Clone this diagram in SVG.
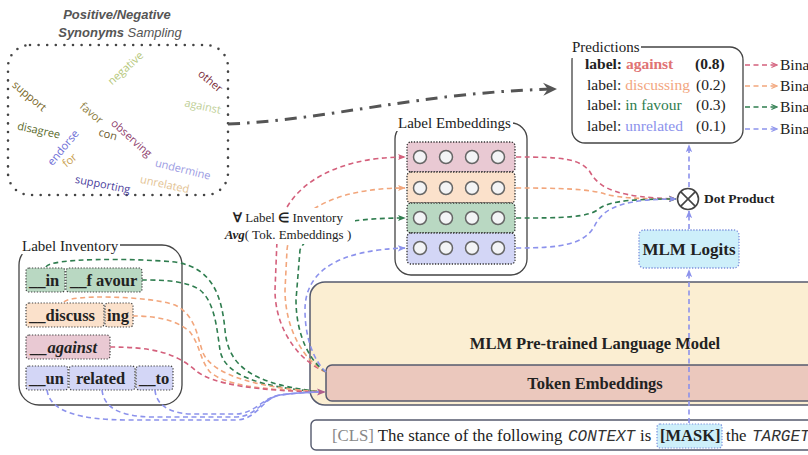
<svg xmlns="http://www.w3.org/2000/svg" width="808" height="455" viewBox="0 0 808 455">
<defs>
<style>
.serif{font-family:"Liberation Serif","Times New Roman",serif;fill:#222}
.mono{font-family:"Liberation Mono","Courier New",monospace;font-style:italic;fill:#333}
.bold{font-weight:bold}
.title{font-family:"Liberation Serif",serif;font-size:15px;fill:#222}
.syn{font-family:"Open Sans","Liberation Sans",sans-serif;font-size:11px;text-anchor:middle}
.box{fill:#fff;stroke:#444;stroke-width:1.3}
.tok{stroke:#444;stroke-width:1.2;stroke-dasharray:1.3 1.6}
.tokt{font-family:"Liberation Serif",serif;font-size:16.5px;font-weight:bold;fill:#222}
.dl{fill:none;stroke-width:1.6;stroke-dasharray:5 3.5}
.r{stroke:#d4607c}.o{stroke:#f2a67c}.g{stroke:#2f7d4f}.b{stroke:#8c92ec}
.cir{fill:#f3f4f6;stroke:#666;stroke-width:1.5}
.row{stroke:#333;stroke-width:1.3;stroke-dasharray:1.3 1.5}
.pred{font-size:15.5px}
</style>
<marker id="mR" viewBox="0 0 10 10" refX="9" refY="5" markerWidth="8" markerHeight="8" orient="auto" markerUnits="userSpaceOnUse"><path d="M0,1 L10,5 L0,9 L2.5,5Z" fill="#d4607c"/></marker>
<marker id="mO" viewBox="0 0 10 10" refX="9" refY="5" markerWidth="8" markerHeight="8" orient="auto" markerUnits="userSpaceOnUse"><path d="M0,1 L10,5 L0,9 L2.5,5Z" fill="#f2a67c"/></marker>
<marker id="mG" viewBox="0 0 10 10" refX="9" refY="5" markerWidth="8" markerHeight="8" orient="auto" markerUnits="userSpaceOnUse"><path d="M0,1 L10,5 L0,9 L2.5,5Z" fill="#2f7d4f"/></marker>
<marker id="mB" viewBox="0 0 10 10" refX="9" refY="5" markerWidth="8" markerHeight="8" orient="auto" markerUnits="userSpaceOnUse"><path d="M0,1 L10,5 L0,9 L2.5,5Z" fill="#8c92ec"/></marker>
<marker id="mP" viewBox="0 0 10 10" refX="9" refY="5" markerWidth="9" markerHeight="9" orient="auto" markerUnits="userSpaceOnUse"><path d="M0,1 L10,5 L0,9 L2.5,5Z" fill="#b0608c"/></marker>
<marker id="mD" viewBox="0 0 12 12" refX="11" refY="6" markerWidth="14" markerHeight="14" orient="auto" markerUnits="userSpaceOnUse"><path d="M0,0.5 L12,6 L0,11.5 L4,6Z" fill="#555"/></marker>
<marker id="oR" viewBox="0 0 10 10" refX="9" refY="5" markerWidth="7" markerHeight="7" orient="auto" markerUnits="userSpaceOnUse"><path d="M1,1.5 L9,5 L1,8.5" fill="none" stroke="#d4607c" stroke-width="1.5"/></marker>
<marker id="oO" viewBox="0 0 10 10" refX="9" refY="5" markerWidth="7" markerHeight="7" orient="auto" markerUnits="userSpaceOnUse"><path d="M1,1.5 L9,5 L1,8.5" fill="none" stroke="#f2a67c" stroke-width="1.5"/></marker>
<marker id="oG" viewBox="0 0 10 10" refX="9" refY="5" markerWidth="7" markerHeight="7" orient="auto" markerUnits="userSpaceOnUse"><path d="M1,1.5 L9,5 L1,8.5" fill="none" stroke="#2f7d4f" stroke-width="1.5"/></marker>
<marker id="oB" viewBox="0 0 10 10" refX="9" refY="5" markerWidth="7" markerHeight="7" orient="auto" markerUnits="userSpaceOnUse"><path d="M1,1.5 L9,5 L1,8.5" fill="none" stroke="#8c92ec" stroke-width="1.5"/></marker>
</defs>
<rect width="808" height="455" fill="#fff"/>

<!-- Synonyms sampling -->
<g id="synonyms">
<text x="117" y="19" text-anchor="middle" font-family="Liberation Sans,Arial,sans-serif" font-size="13" font-weight="bold" font-style="italic" fill="#555">Positive/Negative</text>
<text x="120" y="37" text-anchor="middle" font-family="Liberation Sans,Arial,sans-serif" font-size="13" font-style="italic" fill="#555"><tspan font-weight="bold">Synonyms</tspan> Sampling</text>
<rect x="8" y="45" width="220" height="150" rx="22" fill="none" stroke="#444" stroke-width="2.6" stroke-linecap="round" stroke-dasharray="0 8.6"/>
<text class="syn" fill="#b5c77a" transform="translate(128,71) rotate(-42)">negative</text>
<text class="syn" fill="#7b2d3b" transform="translate(208,84) rotate(40)">other</text>
<text class="syn" fill="#7b6a2e" transform="translate(27,99) rotate(40)">support</text>
<text class="syn" fill="#c0cf98" transform="translate(202,110) rotate(12)">against</text>
<text class="syn" fill="#8c7b3c" transform="translate(89,116) rotate(40)">favor</text>
<text class="syn" fill="#8d3b6b" transform="translate(129,141) rotate(42)">observing</text>
<text class="syn" fill="#5b6b2c" transform="translate(38,134) rotate(12)">disagree</text>
<text class="syn" fill="#6b5a2b" transform="translate(107,138) rotate(15)">con</text>
<text class="syn" fill="#6e6ed6" transform="translate(66,150) rotate(-50)">endorse</text>
<text class="syn" fill="#c9a04f" transform="translate(72,163) rotate(-40)">for</text>
<text class="syn" fill="#9c9ce3" transform="translate(182,173) rotate(14)">undermine</text>
<text class="syn" fill="#4a3c9c" transform="translate(102,188) rotate(11)">supporting</text>
<text class="syn" fill="#e3c394" transform="translate(164,188) rotate(12)">unrelated</text>
</g>

<!-- Label Embeddings -->
<g id="label-embeddings">
<rect class="box" x="395" y="123" width="132" height="152" rx="16"/>
<rect x="396" y="112" width="117" height="19" fill="#fff"/>
<text class="title" x="398" y="128">Label Embeddings</text>
<rect class="row" x="407" y="142" width="108" height="30" rx="4" fill="#e9c9d3"/>
<rect class="row" x="407" y="172" width="108" height="31" rx="4" fill="#fbe1cb"/>
<rect class="row" x="407" y="203" width="108" height="30" rx="4" fill="#b9d8c2"/>
<rect class="row" x="407" y="233" width="108" height="31" rx="4" fill="#d3d6f6"/>
<g class="cir">
<circle cx="420" cy="157" r="6.5"/><circle cx="446" cy="157" r="6.5"/><circle cx="472" cy="157" r="6.5"/><circle cx="498" cy="157" r="6.5"/>
<circle cx="420" cy="188" r="6.5"/><circle cx="446" cy="188" r="6.5"/><circle cx="472" cy="188" r="6.5"/><circle cx="498" cy="188" r="6.5"/>
<circle cx="420" cy="218" r="6.5"/><circle cx="446" cy="218" r="6.5"/><circle cx="472" cy="218" r="6.5"/><circle cx="498" cy="218" r="6.5"/>
<circle cx="420" cy="248" r="6.5"/><circle cx="446" cy="248" r="6.5"/><circle cx="472" cy="248" r="6.5"/><circle cx="498" cy="248" r="6.5"/>
</g>
</g>

<!-- Predictions -->
<g id="predictions">
<rect class="box" x="572" y="47" width="171" height="96" rx="13"/>
<rect x="570" y="37" width="71" height="21" fill="#fff"/>
<text class="title" x="572" y="52">Predictions</text>
<text class="serif bold pred" x="585" y="69">label: <tspan fill="#e07274">against</tspan></text>
<text class="serif bold pred" x="695" y="69">(0.8)</text>
<text class="serif pred" x="587" y="90">label: <tspan fill="#f2a680">discussing</tspan></text>
<text class="serif pred" x="696" y="90">(0.2)</text>
<text class="serif pred" x="587" y="110">label: <tspan fill="#2f7d4f">in favour</tspan></text>
<text class="serif pred" x="696" y="110">(0.3)</text>
<text class="serif pred" x="587" y="131">label: <tspan fill="#8c92ec">unrelated</tspan></text>
<text class="serif pred" x="696" y="131">(0.1)</text>
</g>

<g id="binary">
<text class="serif pred" x="780" y="70">Bina</text>
<text class="serif pred" x="780" y="91">Bina</text>
<text class="serif pred" x="780" y="112">Bina</text>
<text class="serif pred" x="780" y="134">Bina</text>
</g>

<!-- Dot product -->
<g id="dot-product">
<circle cx="688" cy="199" r="10.5" fill="#fff" stroke="#444" stroke-width="1.6"/>
<path d="M680.6,191.6 L695.4,206.4 M695.4,191.6 L680.6,206.4" stroke="#444" stroke-width="1.6"/>
<text class="serif bold" x="704" y="203" font-size="13.5">Dot Product</text>
</g>

<!-- MLM Logits -->
<g id="mlm-logits">
<rect x="639" y="230" width="100" height="38" rx="5" fill="#cdeffa" stroke="#7b8fdc" stroke-width="1.3" stroke-dasharray="1.3 1.6"/>
<text class="serif bold" x="689" y="255" font-size="17" text-anchor="middle">MLM Logits</text>
</g>

<!-- Label Inventory -->
<g id="label-inventory">
<rect class="box" x="19" y="245" width="163" height="160" rx="20"/>
<rect x="18" y="236" width="102" height="18" fill="#fff"/>
<text class="title" x="22" y="251">Label Inventory</text>
<rect class="tok" x="26" y="268" width="39" height="24" rx="3" fill="#b9d8c2"/>
<rect class="tok" x="66" y="268" width="76" height="24" rx="3" fill="#b9d8c2"/>
<text class="tokt" x="29" y="286">__in</text>
<text class="tokt" x="70" y="286">__f avour</text>
<rect class="tok" x="26" y="303" width="78" height="24" rx="3" fill="#fbe1cb"/>
<rect class="tok" x="105" y="303" width="28" height="24" rx="3" fill="#fbe1cb"/>
<text class="tokt" x="29" y="321">__discuss</text>
<text class="tokt" x="107" y="321">ing</text>
<rect class="tok" x="26" y="335" width="84" height="24" rx="3" fill="#e9c9d3"/>
<text class="tokt" x="31" y="353" font-style="italic">__against</text>
<rect class="tok" x="26" y="366" width="42" height="24" rx="3" fill="#d3d6f6"/>
<rect class="tok" x="69" y="366" width="66" height="24" rx="3" fill="#d3d6f6"/>
<rect class="tok" x="136" y="366" width="37" height="24" rx="3" fill="#d3d6f6"/>
<text class="tokt" x="29" y="384">__un</text>
<text class="tokt" x="76" y="384">related</text>
<text class="tokt" x="139" y="384">__to</text>
</g>

<!-- Language model -->
<g id="mlm-model">
<rect x="310" y="282" width="520" height="123" rx="15" fill="#fbeed2" stroke="#555a6e" stroke-width="1.5"/>
<text class="serif bold" x="595" y="349" font-size="16.5" text-anchor="middle">MLM Pre-trained Language Model</text>
</g>
<g id="token-embeddings">
<rect x="326" y="365" width="500" height="36" rx="6" fill="#ebc8bd" stroke="#555a6e" stroke-width="1.5"/>
<text class="serif bold" x="595" y="389" font-size="16.5" text-anchor="middle">Token Embeddings</text>
</g>

<!-- Input sentence -->
<g id="input">
<rect x="311" y="420" width="520" height="30" rx="5" fill="#fff" stroke="#555a6e" stroke-width="1.4"/>
<rect x="657" y="424" width="65" height="24" rx="3" fill="#cdeffa" stroke="#7b8fdc" stroke-width="1.2" stroke-dasharray="1.3 1.6"/>
<text class="serif" x="332" y="441" font-size="16.8"><tspan fill="#888">[CLS]</tspan> The stance of the following</text>
<text class="mono" x="568" y="441" font-size="16">CONTEXT</text>
<text class="serif" x="640" y="441" font-size="16.8">is</text>
<text class="serif bold" x="660" y="441" font-size="16.5" fill="#2b4656">[MASK]</text>
<text class="serif" x="726" y="441" font-size="16.8">the</text>
<text class="mono" x="752" y="441" font-size="16">TARGET</text>
</g>

<!-- Connectors -->
<g id="connectors">
<path d="M228,124 C330,120 420,92 556,89" fill="none" stroke="#555" stroke-width="3" stroke-dasharray="12 7 2.5 7" marker-end="url(#mD)"/>

<path class="dl g" d="M46,267 C50,258 130,258 175,262 C215,268 222,300 225,330 C228,365 250,385 324,392"/>
<path class="dl g" d="M142,280 C160,280 185,280 200,290 C215,302 217,330 220,350 C224,375 260,388 324,392"/>
<path class="dl o" d="M64,302 C70,294 150,296 175,305 C195,315 197,335 202,350 C208,372 250,388 324,392"/>
<path class="dl o" d="M133,316 C150,316 175,318 190,332 C200,345 200,360 210,372 C225,385 260,390 324,392"/>
<path class="dl r" d="M110,347 C150,347 175,352 195,370 C212,385 260,391 324,392"/>
<path class="dl b" d="M155,390 C156,404 168,413 190,414 L235,414 C255,414 262,398 280,395 C295,393 310,392 324,392"/>
<path class="dl b" d="M102,390 C104,408 120,416 150,417 L235,417 C257,417 262,398 280,395 C295,393 310,392 324,392"/>
<path class="dl b" d="M47,390 C50,412 80,420 130,420 L235,420 C258,420 262,398 280,395 C295,393 310,392 325,392" marker-end="url(#mP)"/>

<path class="dl r" d="M326,372 C300,362 275,330 275,290 L277,240 C280,190 330,157 405,157" marker-end="url(#mR)"/>
<path class="dl o" d="M326,372 C305,362 285,330 285,290 L287,250 C290,215 330,188 405,188" marker-end="url(#mO)"/>
<path class="dl g" d="M326,372 C310,362 296,335 296,300 L300,250 C310,228 340,218 405,218" marker-end="url(#mG)"/>
<path class="dl b" d="M326,372 C315,362 305,340 305,310 C305,270 340,250 405,248" marker-end="url(#mB)"/>

<path class="dl r" d="M516,157 C560,157 580,158 590,172 C600,190 620,197 676,199" marker-end="url(#mR)"/>
<path class="dl o" d="M516,188 C560,188 590,189 605,194 C620,198 640,199 676,199" marker-end="url(#mO)"/>
<path class="dl g" d="M516,218 C560,218 590,218 600,208 C612,200 640,199 676,199" marker-end="url(#mG)"/>
<path class="dl b" d="M516,248 C560,248 585,245 595,225 C605,205 630,199 676,199" marker-end="url(#mB)"/>

<path class="dl b" d="M689,423 L689,270" marker-end="url(#mB)"/>
<path class="dl b" d="M689,229 L689,211" marker-end="url(#mB)"/>
<path class="dl b" d="M689,187 L689,145" marker-end="url(#mB)"/>

<path class="dl r" d="M745,65 L777,65" stroke-dasharray="4 3" marker-end="url(#oR)"/>
<path class="dl o" d="M745,86 L777,86" stroke-dasharray="4 3" marker-end="url(#oO)"/>
<path class="dl g" d="M745,107 L777,107" stroke-dasharray="4 3" marker-end="url(#oG)"/>
<path class="dl b" d="M745,129 L777,129" stroke-dasharray="4 3" marker-end="url(#oB)"/>
</g>

<g id="avg-label">
<rect x="224" y="208" width="131" height="36" fill="#fff"/>
<text class="serif" x="288" y="222" font-size="13" text-anchor="middle"><tspan font-weight="bold">∀</tspan> Label <tspan font-weight="bold">∈</tspan> Inventory</text>
<text class="serif" x="288" y="239" font-size="13" text-anchor="middle"><tspan font-weight="bold" font-style="italic">Avg</tspan>( Tok. Embeddings )</text>
</g>
</svg>
